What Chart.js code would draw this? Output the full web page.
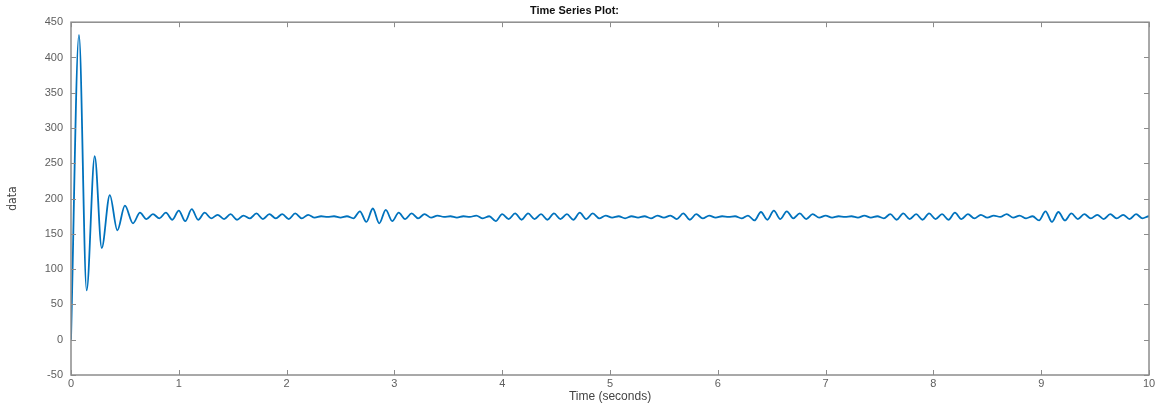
<!DOCTYPE html>
<html>
<head>
<meta charset="utf-8">
<script src="https://cdn.jsdelivr.net/npm/chart.js@4.4.1/dist/chart.umd.min.js"></script>
<style>
  html, body { margin: 0; padding: 0; background: #fff; }
  #wrap { width: 1164px; height: 405px; }
</style>
</head>
<body>
<div id="wrap"><canvas id="tsChart"></canvas></div>
<script>
// start-up transient, read peak by peak (seconds / value)
const transientTimes = [0, 0.074, 0.145, 0.22, 0.285, 0.36, 0.43, 0.50, 0.575, 0.64];
const transientValues = [0, 432, 70, 260, 130, 205, 155, 190, 165, 180];

// settled part, one reading every 0.06 s from 0.70 s on
const steadyStart = 0.70;
const steadyStep = 0.06;
const steadyValues = [
  171, 178, 172, 180, 170, 183, 168, 185, 170, 180,
  172, 177, 171, 178, 170, 176, 172, 179, 171, 178,
  172, 178, 171, 179, 172, 177, 173, 175, 174, 175,
  173, 175, 172, 182, 167, 186, 165, 184, 168, 180,
  171, 179, 172, 178, 173, 176, 174, 175, 173, 175,
  174, 176, 172, 175, 168, 178, 171, 179, 170, 179,
  171, 178, 170, 179, 171, 178, 170, 180, 171, 179,
  172, 176, 173, 175, 172, 175, 173, 175, 172, 176,
  173, 176, 171, 179, 170, 178, 172, 176, 173, 175,
  174, 175, 172, 176, 169, 181, 170, 183, 171, 182,
  172, 179, 171, 178, 173, 176, 173, 175, 174, 175,
  173, 176, 173, 175, 172, 178, 170, 179, 171, 178,
  170, 179, 171, 178, 170, 180, 171, 178, 172, 177,
  173, 176, 174, 178, 173, 176, 172, 175, 169, 182,
  167, 181, 169, 179, 171, 178, 172, 177, 171, 178,
  172, 177, 171, 178, 172, 175, 172
];

const yTicks = [-50, 0, 50, 100, 150, 200, 250, 300, 350, 400, 450];
const xTicks = [0, 1, 2, 3, 4, 5, 6, 7, 8, 9, 10];

const points = transientTimes.map((t, i) => ({ x: t, y: transientValues[i] }));
steadyValues.forEach((v, i) => {
  points.push({ x: +(steadyStart + i * steadyStep).toFixed(3), y: v });
});

const axisGrey = '#8c8c8c';
const labelGrey = '#5e5e5e';

// matlab style box with inward ticks on all four sides
const boxPlugin = {
  id: 'boxTicks',
  afterDraw(chart) {
    const { ctx, chartArea: a, scales } = chart;
    const len = 5;
    ctx.save();
    ctx.strokeStyle = axisGrey;
    ctx.lineWidth = 1;
    ctx.beginPath();
    xTicks.forEach(v => {
      const px = Math.round(scales.x.getPixelForValue(v)) + 0.5;
      ctx.moveTo(px, a.bottom); ctx.lineTo(px, a.bottom - len);
      ctx.moveTo(px, a.top); ctx.lineTo(px, a.top + len);
    });
    yTicks.forEach(v => {
      const py = Math.round(scales.y.getPixelForValue(v)) + 0.5;
      ctx.moveTo(a.left, py); ctx.lineTo(a.left + len, py);
      ctx.moveTo(a.right, py); ctx.lineTo(a.right - len, py);
    });
    ctx.stroke();
    ctx.lineWidth = 1.5;
    ctx.strokeRect(a.left, a.top, a.right - a.left, a.bottom - a.top);
    ctx.restore();
  },
};

new Chart(document.getElementById('tsChart').getContext('2d'), {
  type: 'line',
  data: {
    datasets: [{
      data: points,
      borderColor: '#0072BD',
      borderWidth: 1.8,
      pointRadius: 0,
      cubicInterpolationMode: 'monotone',
      fill: false,
    }],
  },
  options: {
    responsive: true,
    maintainAspectRatio: false,
    animation: false,
    layout: { padding: { left: 0, right: 15, top: 0, bottom: 0 } },
    plugins: {
      legend: { display: false },
      tooltip: { enabled: false },
      title: {
        display: true,
        text: 'Time Series Plot:',
        color: '#111',
        font: { family: '"Liberation Sans", Arial, sans-serif', size: 11, weight: 'bold' },
        padding: { top: 4, bottom: 5 },
      },
    },
    scales: {
      x: {
        type: 'linear',
        min: 0,
        max: 10,
        afterBuildTicks(scale) { scale.ticks = xTicks.map(v => ({ value: v })); },
        afterFit(scale) { scale.height = 30; },
        grid: { display: false, drawTicks: false },
        border: { display: false },
        ticks: {
          color: labelGrey,
          padding: 2,
          maxRotation: 0,
          font: { family: '"Liberation Sans", Arial, sans-serif', size: 11 },
        },
        title: {
          display: true,
          text: 'Time (seconds)',
          color: '#444',
          padding: { top: 0, bottom: 1 },
          font: { family: '"Liberation Sans", Arial, sans-serif', size: 12 },
        },
      },
      y: {
        min: -50,
        max: 450,
        afterBuildTicks(scale) { scale.ticks = yTicks.map(v => ({ value: v })); },
        afterFit(scale) { scale.width = 71; },
        grid: { display: false, drawTicks: false },
        border: { display: false },
        ticks: {
          color: labelGrey,
          padding: 8,
          font: { family: '"Liberation Sans", Arial, sans-serif', size: 11 },
        },
        title: {
          display: true,
          text: 'data',
          color: '#444',
          padding: { top: 6, bottom: 0 },
          font: { family: '"Liberation Sans Narrow", "DejaVu Sans Condensed", sans-serif', size: 12 },
        },
      },
    },
  },
  plugins: [boxPlugin],
});
</script>
</body>
</html>
